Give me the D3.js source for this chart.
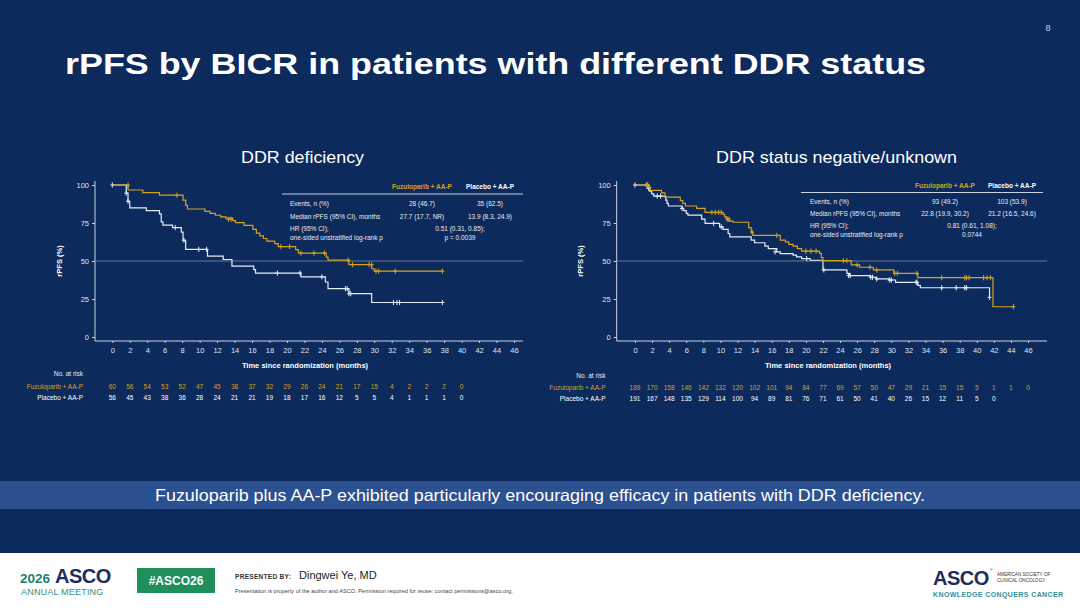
<!DOCTYPE html>
<html>
<head>
<meta charset="utf-8">
<script src="https://cdn.jsdelivr.net/npm/d3@7"></script>
<style>
  body { margin: 0; background: #fff; }
  svg { display: block; font-family: "Liberation Sans", Arial, sans-serif; }
</style>
</head>
<body>
<div id="chart"></div>
<script>
// ---- data ----
const tickMonths = [0, 2, 4, 6, 8, 10, 12, 14, 16, 18, 20, 22, 24, 26, 28, 30, 32, 34, 36, 38, 40, 42, 44, 46];
const yTicks = [0, 25, 50, 75, 100];

// DDR deficiency: [months, rPFS %]
const leftFuzuSteps = [[0,100],[1.8,96.7],[3.5,95.0],[5.4,93.3],[8.1,90.0],[8.4,86.7],[8.6,84.2],[10.6,82.6],[11.2,81.3],[11.8,80.1],[12.4,79.0],[13.0,78.2],[13.8,76.5],[14.1,75.2],[15.1,73.4],[16.1,70.8],[16.5,68.3],[16.9,66.5],[17.3,64.8],[17.7,63.1],[18.6,61.4],[19.0,59.5],[21.0,57.5],[21.3,55.2],[24.5,52.6],[24.7,50.6],[27.1,47.6],[29.7,44.9],[30.0,43.3],[37.8,43.3]];
const leftFuzuCensor = [[1.8,100],[7.4,93.3],[13.3,77.4],[13.6,77.4],[19.3,59.5],[20.3,59.5],[21.6,55.2],[23.1,55.2],[24.3,55.2],[27.0,50.6],[27.5,47.6],[29.4,47.6],[29.7,47.6],[30.2,43.3],[30.5,43.3],[32.4,43.3],[37.8,43.3]];
const leftPlacSteps = [[0,100],[1.6,94.6],[1.8,89.3],[2.0,85.0],[3.9,83.2],[5.4,81.0],[5.6,75.8],[5.8,73.6],[6.9,72.0],[7.9,69.0],[8.1,63.6],[8.4,57.6],[10.9,53.2],[12.7,51.0],[13.7,46.6],[16.2,44.3],[16.4,42.0],[21.6,39.6],[24.4,36.2],[24.7,31.8],[27.1,28.5],[29.7,22.7],[37.8,22.7]];
const leftPlacCensor = [[0,100],[1.6,94.6],[1.8,89.3],[7.2,72.0],[8.2,63.6],[9.9,57.6],[10.8,57.6],[18.9,42.0],[21.5,42.0],[24.0,39.6],[26.7,31.8],[26.9,31.8],[27.1,28.5],[27.3,28.5],[32.2,22.7],[32.6,22.7],[32.9,22.7],[37.8,22.7]];

// DDR status negative/unknown
const rightFuzuSteps = [[0,100],[1.5,98.5],[1.8,96.5],[3.1,94.8],[3.5,92.0],[5.3,89.7],[5.6,87.9],[5.9,86.2],[7.2,84.6],[8.2,82.0],[10.3,80.7],[10.5,79.0],[10.7,77.5],[11.0,76.2],[11.5,75.5],[13.3,72.0],[13.6,69.0],[13.8,66.8],[17.0,63.7],[17.6,62.6],[18.0,61.0],[18.5,59.8],[19.0,58.2],[19.5,56.5],[21.6,55.0],[21.8,52.3],[22.0,50.2],[25.3,47.4],[26.3,45.9],[27.9,44.1],[30.3,41.9],[33.1,39.0],[41.9,19.9],[44.3,19.9]];
const rightFuzuCensor = [[1.3,100],[1.5,100],[1.7,98.5],[9.0,82.0],[9.4,82.0],[9.8,82.0],[10.1,82.0],[10.8,77.5],[11.0,77.5],[13.7,69.0],[16.6,66.8],[20.0,56.5],[20.6,56.5],[21.2,56.5],[24.4,50.2],[24.8,50.2],[26.0,47.4],[27.5,45.9],[28.3,44.1],[30.4,41.9],[30.7,41.9],[33.0,41.9],[35.9,39.0],[38.6,39.0],[38.8,39.0],[39.1,39.0],[40.8,39.0],[41.2,39.0],[41.6,39.0],[44.3,19.9]];
const rightPlacSteps = [[0,100],[1.5,97.8],[1.7,96.0],[1.95,94.1],[2.2,92.7],[3.6,90.1],[3.75,87.9],[3.9,86.2],[5.5,84.6],[5.7,83.1],[6.0,81.3],[6.2,80.2],[7.8,77.5],[8.2,74.7],[9.9,72.5],[10.3,70.8],[10.9,68.1],[11.1,65.9],[13.6,63.7],[14.0,62.0],[15.2,59.8],[15.6,58.2],[16.6,56.0],[17.0,54.9],[18.5,53.8],[18.9,52.7],[19.5,51.6],[20.5,50.5],[22.0,44.1],[24.8,41.9],[25.1,40.4],[27.5,39.3],[28.2,38.2],[29.7,37.5],[30.5,36.0],[33.1,34.0],[33.4,32.4],[41.5,26.1]];
const rightPlacCensor = [[0,100],[1.4,100],[1.6,97.8],[2.6,92.7],[3.0,92.7],[5.5,84.6],[9.2,74.7],[10.1,72.5],[16.4,56.0],[20.1,51.6],[22.1,44.1],[25.0,40.4],[25.2,40.4],[27.6,39.3],[27.8,39.3],[28.3,38.2],[29.8,37.5],[30.0,37.5],[32.9,36.0],[33.0,36.0],[35.9,32.4],[37.6,32.4],[38.6,32.4],[38.8,32.4],[41.5,26.1]];

// numbers at risk
const leftRiskFuzu = [60,56,54,53,52,47,45,38,37,32,29,26,24,21,17,15,4,2,2,2,0];
const leftRiskPlac = [56,45,43,38,36,28,24,21,21,19,18,17,16,12,5,5,4,1,1,1,0];
const rightRiskFuzu = [189,170,158,146,142,132,120,102,101,94,84,77,69,57,50,47,29,21,15,15,5,1,1,0];
const rightRiskPlac = [191,167,148,135,129,114,100,94,89,81,76,71,61,50,41,40,26,15,12,11,5,0];

// inset statistics
const statLabels = ["Events, n (%)", "Median rPFS (95% CI), months", "HR (95% CI);", "one-sided unstratified log-rank p"];
const leftStats = { events: ["28 (46.7)", "35 (62.5)"], median: ["27.7 (17.7, NR)", "13.9 (8.3, 24.9)"], hr: ["0.51 (0.31, 0.85);", "p = 0.0039"] };
const rightStats = { events: ["93 (49.2)", "103 (53.9)"], median: ["22.8 (19.9, 30.2)", "21.2 (16.5, 24.6)"], hr: ["0.81 (0.61, 1.08);", "0.0744"] };
const armNames = ["Fuzuloparib + AA-P", "Placebo + AA-P"];

// ---- styling ----
const W = 1080, H = 608;
const navy = "#0c2a5c";
const gold = "#d6a21e";
const pale = "#e4ecf7";
const axisCol = "#c9d2e0";

const svg = d3.select("#chart").append("svg")
    .attr("width", W)
    .attr("height", H);

svg.append("rect").attr("width", W).attr("height", 553).attr("fill", navy);
svg.append("rect").attr("y", 553).attr("width", W).attr("height", H - 553).attr("fill", "#fff");

svg.append("text")
    .attr("x", 65).attr("y", 74)
    .attr("fill", "#fff")
    .attr("font-size", 30).attr("font-weight", "bold")
    .attr("textLength", 861).attr("lengthAdjust", "spacingAndGlyphs")
    .text("rPFS by BICR in patients with different DDR status");

svg.append("text")
    .attr("x", 1048).attr("y", 31)
    .attr("fill", "#cfd6e2").attr("font-size", 9).attr("text-anchor", "middle")
    .text("8");

const panels = [
  {
    title: "DDR deficiency", titleX: 241, titleW: 123,
    axisLeft: 95, axisRight: 523, x0: 112.3, x46: 514,
    fuzu: leftFuzuSteps, fuzuC: leftFuzuCensor, plac: leftPlacSteps, placC: leftPlacCensor,
    riskF: leftRiskFuzu, riskP: leftRiskPlac, stats: leftStats,
    tab: { x1: 282, x2: 523, lineY: 194, hdrY: 187, c1: 422, c2: 490, hrX: 460, labelX: 290, rows: [204, 216.5, 229, 238] },
    risk: { labelX: 83, noY: 374, fY: 386.5, pY: 397.5 },
    xlabelX: 305, ylabelX: 62
  },
  {
    title: "DDR status negative/unknown", titleX: 716, titleW: 241,
    axisLeft: 616.7, axisRight: 1047, x0: 635, x46: 1028,
    fuzu: rightFuzuSteps, fuzuC: rightFuzuCensor, plac: rightPlacSteps, placC: rightPlacCensor,
    riskF: rightRiskFuzu, riskP: rightRiskPlac, stats: rightStats,
    tab: { x1: 801, x2: 1043, lineY: 192.5, hdrY: 185.5, c1: 945, c2: 1012, hrX: 972, labelX: 810, rows: [201.5, 214, 226, 235] },
    risk: { labelX: 605.5, noY: 375.5, fY: 387.5, pY: 399 },
    xlabelX: 828, ylabelX: 583
  }
];

const yTop = 185, yBottom = 337, axisY = 341;

panels.forEach(p => {
  const g = svg.append("g");

  const x = d3.scaleLinear().domain([0, 46]).range([p.x0, p.x46]);
  const y = d3.scaleLinear().domain([0, 100]).range([yBottom, yTop]);

  g.append("text")
      .attr("x", p.titleX).attr("y", 163)
      .attr("fill", "#fff").attr("font-size", 17)
      .attr("textLength", p.titleW).attr("lengthAdjust", "spacingAndGlyphs")
      .text(p.title);

  // axes
  const yAx = g.append("g")
      .attr("transform", `translate(${p.axisLeft},0)`)
      .call(d3.axisLeft(y).tickValues(yTicks).tickSize(3).tickSizeOuter(0));
  const xAx = g.append("g")
      .attr("transform", `translate(0,${axisY})`)
      .call(d3.axisBottom(x).tickValues(tickMonths).tickSize(2).tickSizeOuter(0));
  [yAx, xAx].forEach(a => {
    a.select(".domain").remove();
    a.selectAll("line").attr("stroke", axisCol);
    a.selectAll("text").attr("fill", "#dfe5ee").attr("font-size", 7.5).attr("font-family", "Liberation Sans, Arial, sans-serif");
  });
  xAx.selectAll("text").attr("dy", "0.9em");
  g.append("line")
      .attr("x1", p.axisLeft).attr("x2", p.axisLeft)
      .attr("y1", y(100) - 4).attr("y2", axisY)
      .attr("stroke", axisCol).attr("stroke-width", 1);
  g.append("line")
      .attr("x1", p.axisLeft).attr("x2", p.axisRight)
      .attr("y1", axisY).attr("y2", axisY)
      .attr("stroke", axisCol).attr("stroke-width", 1);

  // 50% reference
  g.append("line")
      .attr("x1", p.axisLeft).attr("x2", p.axisRight)
      .attr("y1", y(50)).attr("y2", y(50))
      .attr("stroke", "#8190aa").attr("stroke-width", 0.8);

  g.append("text")
      .attr("transform", `translate(${p.ylabelX},${(yTop + yBottom) / 2}) rotate(-90)`)
      .attr("fill", "#fff").attr("font-size", 7.5).attr("font-weight", "bold").attr("text-anchor", "middle")
      .text("rPFS (%)");

  g.append("text")
      .attr("x", p.xlabelX).attr("y", 368)
      .attr("fill", "#fff").attr("font-size", 7.5).attr("font-weight", "bold").attr("text-anchor", "middle")
      .text("Time since randomization (months)");

  // curves
  const line = d3.line()
      .x(d => x(d[0]))
      .y(d => y(d[1]))
      .curve(d3.curveStepAfter);

  const censorPath = d => {
    const cx = x(d[0]), cy = y(d[1]);
    return `M${cx - 2},${cy}H${cx + 2}M${cx},${cy - 2.6}V${cy + 2.6}`;
  };

  [[p.plac, p.placC, pale], [p.fuzu, p.fuzuC, gold]].forEach(([steps, cens, col]) => {
    g.append("path")
        .datum(steps)
        .attr("d", line)
        .attr("fill", "none")
        .attr("stroke", col)
        .attr("stroke-width", 1.2);
    g.selectAll(null)
        .data(cens)
        .enter()
        .append("path")
        .attr("d", censorPath)
        .attr("stroke", col)
        .attr("stroke-width", 1);
  });

  // inset table
  const t = p.tab;
  g.append("line")
      .attr("x1", t.x1).attr("x2", t.x2).attr("y1", t.lineY).attr("y2", t.lineY)
      .attr("stroke", axisCol).attr("stroke-width", 1);
  g.append("text").attr("x", t.c1).attr("y", t.hdrY).attr("dy", "0.35em")
      .attr("fill", gold).attr("font-size", 6.5).attr("font-weight", "bold").attr("text-anchor", "middle")
      .text(armNames[0]);
  g.append("text").attr("x", t.c2).attr("y", t.hdrY).attr("dy", "0.35em")
      .attr("fill", "#fff").attr("font-size", 6.5).attr("font-weight", "bold").attr("text-anchor", "middle")
      .text(armNames[1]);
  statLabels.forEach((lab, i) => {
    g.append("text").attr("x", t.labelX).attr("y", t.rows[i]).attr("dy", "0.35em")
        .attr("fill", "#e8edf4").attr("font-size", 6.5)
        .text(lab);
  });
  const cell = (cx, cy, txt) => g.append("text")
      .attr("x", cx).attr("y", cy).attr("dy", "0.35em")
      .attr("fill", "#e8edf4").attr("font-size", 6.5).attr("text-anchor", "middle")
      .text(txt);
  cell(t.c1, t.rows[0], p.stats.events[0]);
  cell(t.c2, t.rows[0], p.stats.events[1]);
  cell(t.c1, t.rows[1], p.stats.median[0]);
  cell(t.c2, t.rows[1], p.stats.median[1]);
  cell(t.hrX, t.rows[2], p.stats.hr[0]);
  cell(t.hrX, t.rows[3], p.stats.hr[1]);

  // numbers at risk
  const r = p.risk;
  g.append("text").attr("x", r.labelX).attr("y", r.noY).attr("dy", "0.35em")
      .attr("fill", "#e8edf4").attr("font-size", 6.5).attr("text-anchor", "end")
      .text("No. at risk");
  [[r.fY, p.riskF, gold, armNames[0]], [r.pY, p.riskP, "#fff", armNames[1]]].forEach(([ry, vals, col, name]) => {
    g.append("text").attr("x", r.labelX).attr("y", ry).attr("dy", "0.35em")
        .attr("fill", col).attr("font-size", 6.5).attr("text-anchor", "end")
        .text(name);
    g.selectAll(null)
        .data(vals)
        .enter()
        .append("text")
        .attr("x", (d, i) => x(tickMonths[i]))
        .attr("y", ry).attr("dy", "0.35em")
        .attr("fill", col).attr("font-size", 6.5).attr("text-anchor", "middle")
        .text(d => d);
  });
});

// conclusion banner
svg.append("rect").attr("x", 0).attr("y", 481).attr("width", W).attr("height", 28).attr("fill", "#2c5190");
svg.append("text")
    .attr("x", 155).attr("y", 495).attr("dy", "0.35em")
    .attr("fill", "#fff").attr("font-size", 16.5)
    .attr("textLength", 770).attr("lengthAdjust", "spacingAndGlyphs")
    .text("Fuzuloparib plus AA-P exhibited particularly encouraging efficacy in patients with DDR deficiency.");

// footer
const foot = svg.append("g");
foot.append("text").attr("x", 20).attr("y", 583)
    .attr("fill", "#1d7f6f").attr("font-size", 13.5).attr("font-weight", "bold").text("2026");
foot.append("text").attr("x", 55).attr("y", 583)
    .attr("fill", "#1f2d5c").attr("font-size", 20).attr("font-weight", "bold").attr("letter-spacing", -0.5).text("ASCO");
foot.append("text").attr("x", 21).attr("y", 595)
    .attr("fill", "#2e8f86").attr("font-size", 9).attr("letter-spacing", 0.2).text("ANNUAL MEETING");
foot.append("rect").attr("x", 137).attr("y", 568).attr("width", 78).attr("height", 25).attr("fill", "#1f8f5c");
foot.append("text").attr("x", 176).attr("y", 581).attr("dy", "0.35em")
    .attr("fill", "#fff").attr("font-size", 12).attr("font-weight", "bold").attr("text-anchor", "middle").text("#ASCO26");
foot.append("text").attr("x", 235).attr("y", 579)
    .attr("fill", "#333").attr("font-size", 6.5).attr("font-weight", "bold").attr("letter-spacing", 0.3).text("PRESENTED BY:");
foot.append("text").attr("x", 299).attr("y", 579)
    .attr("fill", "#222").attr("font-size", 11).text("Dingwei Ye, MD");
foot.append("text").attr("x", 235).attr("y", 593)
    .attr("fill", "#444").attr("font-size", 5.6).text("Presentation is property of the author and ASCO. Permission required for reuse; contact permissions@asco.org.");
foot.append("text").attr("x", 933).attr("y", 585)
    .attr("fill", "#1f2d5c").attr("font-size", 20).attr("font-weight", "bold").attr("letter-spacing", -0.5).text("ASCO");
foot.append("text").attr("x", 990).attr("y", 571)
    .attr("fill", "#1f2d5c").attr("font-size", 3.5).text("®");
foot.append("text").attr("x", 997).attr("y", 576)
    .attr("fill", "#333").attr("font-size", 4.6).text("AMERICAN SOCIETY OF");
foot.append("text").attr("x", 997).attr("y", 582)
    .attr("fill", "#333").attr("font-size", 4.6).text("CLINICAL ONCOLOGY");
foot.append("text").attr("x", 933).attr("y", 597)
    .attr("fill", "#2e8f9a").attr("font-size", 7).attr("font-weight", "bold").attr("letter-spacing", 0.4).text("KNOWLEDGE CONQUERS CANCER");
</script>
</body>
</html>
